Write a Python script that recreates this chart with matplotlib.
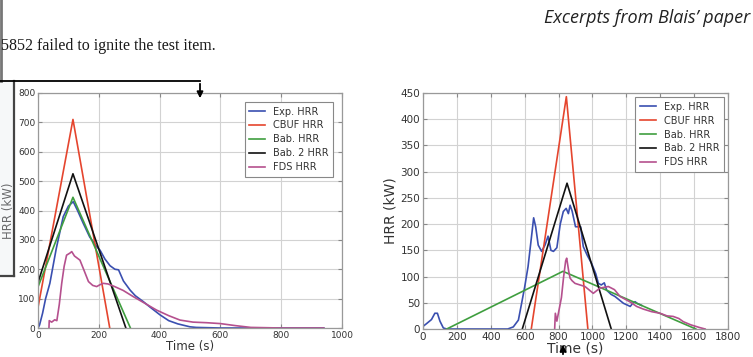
import numpy as np
import matplotlib.pyplot as plt
from matplotlib.patches import Rectangle, FancyArrowPatch

# ---- data ----
series_names = ['Exp. HRR', 'CBUF HRR', 'Bab. HRR', 'Bab. 2 HRR', 'FDS HRR']
series_colors = ['#3a4fb0', '#e5452e', '#3f9e3f', '#111111', '#b5508e']

# left plot
left_exp_t = [0, 5, 15, 25, 39, 60, 83, 100, 116, 130, 149, 170, 193, 204, 220, 237, 253, 265,
              281, 303, 320, 346, 370, 401, 430, 460, 500, 520, 600, 700, 800, 940]
left_exp_q = [0, 10, 50, 100, 152, 270, 379, 415, 430, 400, 356, 310, 277, 265, 235, 212, 200, 198,
              160, 129, 110, 90, 70, 45, 25, 14, 4, 2, 0, 0, 0, 0]
left_cbuf_t = [0, 115, 236]
left_cbuf_q = [70, 710, 0]
left_bab_t = [0, 115, 304]
left_bab_q = [140, 445, 0]
left_bab2_t = [0, 115, 289]
left_bab2_q = [155, 525, 0]
left_fds_t = [36, 37, 45, 55, 62, 70, 78, 86, 94, 105, 111, 120, 138, 150, 166, 180, 193, 205,
              215, 230, 250, 280, 313, 350, 390, 430, 467, 510, 555, 600, 650, 700, 800, 940]
left_fds_q = [0, 25, 20, 28, 25, 80, 152, 210, 248, 255, 260, 245, 231, 200, 158, 145, 141, 148,
              152, 150, 142, 128, 107, 85, 61, 42, 27, 20, 18, 15, 8, 2, 0, 0]

# right plot
right_exp_t = [0, 20, 50, 70, 85, 100, 120, 140, 300, 500, 533, 563, 582, 600, 620, 640, 653, 665,
               680, 700, 720, 738, 755, 770, 790, 810, 828, 845, 858, 868, 880, 900, 930, 946,
               970, 995, 1020, 1035, 1052, 1070, 1084, 1110, 1133, 1160, 1183, 1210, 1223, 1240,
               1252, 1263, 1290]
right_exp_q = [5, 10, 18, 30, 30, 15, 2, 0, 0, 0, 4, 17, 49, 80, 119, 175, 212, 195,
               160, 148, 160, 177, 150, 148, 155, 200, 224, 230, 220, 236, 225, 195, 195, 157,
               140, 125, 105, 87, 84, 88, 74, 66, 62, 55, 49, 45, 43, 50,
               52, 49, 45]
right_cbuf_t = [639, 846, 973]
right_cbuf_q = [0, 443, 0]
right_bab_t = [140, 826, 1610]
right_bab_q = [0, 110, 0]
right_bab2_t = [586, 850, 1111]
right_bab2_q = [0, 278, 0]
right_fds_t = [777, 781, 790, 805, 817, 830, 842, 848, 860, 868, 880, 897, 956, 1005, 1044, 1094,
               1130, 1163, 1220, 1261, 1300, 1350, 1399, 1440, 1476, 1510, 1536, 1580, 1630, 1665]
right_fds_q = [0, 30, 15, 40, 60, 100, 130, 135, 110, 97, 92, 87, 81, 68, 78, 81,
               75, 62, 52, 43, 38, 33, 30, 25, 24, 20, 14, 8, 3, 0]

left_xticks = [0, 200, 400, 600, 800, 1000]
left_yticks = [0, 100, 200, 300, 400, 500, 600, 700, 800]
right_xticks = [0, 200, 400, 600, 800, 1000, 1200, 1400, 1600, 1800]
right_yticks = [0, 50, 100, 150, 200, 250, 300, 350, 400, 450]

fig = plt.figure(figsize=(7.53, 3.57), dpi=100)
W, H = 753.0, 357.0


def px_axes(x0, y0, x1, y1):
    # pixel box (top-left origin) -> figure axes
    return fig.add_axes([x0 / W, 1 - y1 / H, (x1 - x0) / W, (y1 - y0) / H])


def style(ax, xticks, yticks, tick_fs, label_fs):
    ax.set_xticks(xticks)
    ax.set_yticks(yticks)
    ax.set_xlim(xticks[0], xticks[-1])
    ax.set_ylim(yticks[0], yticks[-1])
    ax.grid(True, color='#d2d2d2', lw=0.8)
    ax.set_axisbelow(True)
    ax.tick_params(direction='in', length=3, color='#888888', labelsize=tick_fs,
                   labelcolor='#333333', pad=2, top=True, right=True)
    for s in ax.spines.values():
        s.set_color('#999999')
        s.set_linewidth(0.9)
    ax.set_xlabel('Time (s)', fontsize=label_fs, color='#333333', labelpad=0)
    ax.set_ylabel('HRR (kW)', fontsize=label_fs, color='#333333', labelpad=2)


def draw(ax, data, pad):
    for (t, q), name, c in zip(data, series_names, series_colors):
        ax.plot(t, q, color=c, lw=1.2, label=name)
    leg = ax.legend(loc='upper right', fontsize=7, handlelength=1.6, labelspacing=0.4,
                    borderpad=0.5, fancybox=False, framealpha=1, borderaxespad=pad)
    leg.get_frame().set_edgecolor('#888888')
    leg.get_frame().set_linewidth(0.8)
    for txt in leg.get_texts():
        txt.set_color('#333333')


ax1 = px_axes(38, 93, 342, 328)
draw(ax1, [(left_exp_t, left_exp_q), (left_cbuf_t, left_cbuf_q), (left_bab_t, left_bab_q),
           (left_bab2_t, left_bab2_q), (left_fds_t, left_fds_q)], 0.9)
style(ax1, left_xticks, left_yticks, 6.5, 8.5)

ax2 = px_axes(423, 93, 728, 329)
draw(ax2, [(right_exp_t, right_exp_q), (right_cbuf_t, right_cbuf_q), (right_bab_t, right_bab_q),
           (right_bab2_t, right_bab2_q), (right_fds_t, right_fds_q)], 0.4)
style(ax2, right_xticks, right_yticks, 7.5, 10)

# ---- page excerpt decorations ----
overlay = fig.add_axes([0, 0, 1, 1], zorder=5)
overlay.set_xlim(0, W)
overlay.set_ylim(H, 0)
overlay.axis('off')
overlay.patch.set_alpha(0)

overlay.text(1, 50, '5852 failed to ignite the test item.', family='Liberation Serif',
             fontsize=11.5, color='#1a1a1a', va='baseline', ha='left')
overlay.text(750, 18, 'Excerpts from Blais\u2019 paper', family='Open Sans', style='italic',
             fontsize=13, color='#222222', va='center', ha='right')

# side panel sitting over the left plot
overlay.add_patch(Rectangle((0, 81), 14, 194, facecolor='#e4e8ee', alpha=0.3, edgecolor='none'))
overlay.plot([14, 14], [81, 276], color='#444444', lw=1.6)
overlay.plot([0, 14], [276, 276], color='#444444', lw=1.6)
overlay.plot([1, 1], [0, 81], color='#777777', lw=2)

# callout arrows
overlay.plot([0, 200], [81, 81], color='black', lw=1.3)
overlay.add_patch(FancyArrowPatch((200, 81), (200, 101), arrowstyle='-|>', mutation_scale=9,
                                  color='black', lw=1.3))
overlay.add_patch(FancyArrowPatch((563, 357), (563, 342), arrowstyle='-|>', mutation_scale=9,
                                  color='black', lw=1.3))

fig.savefig('out.png', dpi=100, facecolor='white')
